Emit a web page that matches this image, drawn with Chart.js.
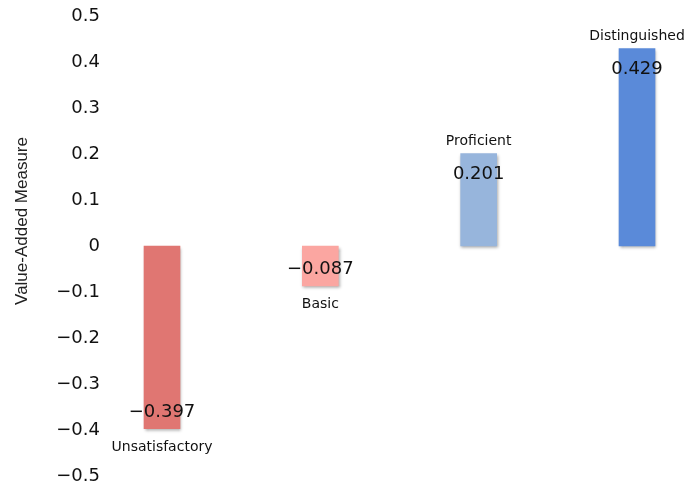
<!DOCTYPE html>
<html>
<head>
<meta charset="utf-8">
<script src="https://cdn.jsdelivr.net/npm/chart.js@4/dist/chart.umd.min.js"></script>
<style>
    html, body { margin: 0; padding: 0; background: #fff; }
    #wrap { width: 691px; height: 489px; }
</style>
</head>
<body>
<div id="wrap"><canvas id="va-chart"></canvas></div>
<script>

const levels = ['Unsatisfactory', 'Basic', 'Proficient', 'Distinguished'];
const measures = [-0.397, -0.087, 0.201, 0.429];
const barColors = ['#E07672', '#FBA6A1', '#97B5DC', '#5A8AD9'];
const yTitle = 'Value-Added Measure';

function fmt(v) {
    if (Math.abs(v) < 1e-9) return '0';
    return v.toFixed(1).replace('-', '\u2212');
}

// soft drop shadow under the bars
const barShadow = {
    id: 'barShadow',
    beforeDatasetsDraw(chart) {
        const ctx = chart.ctx;
        ctx.save();
        ctx.shadowColor = 'rgba(0,0,0,0.35)';
        ctx.shadowBlur = 3;
        ctx.shadowOffsetX = 1;
        ctx.shadowOffsetY = 2;
    },
    afterDatasetsDraw(chart) {
        chart.ctx.restore();
    }
};

// value inside the bar end, level name just outside it, plus the axis title
const barLabels = {
    id: 'barLabels',
    afterDraw(chart) {
        const ctx = chart.ctx;
        const meta = chart.getDatasetMeta(0);
        ctx.save();
        ctx.textAlign = 'center';
        ctx.textBaseline = 'alphabetic';
        ctx.fillStyle = '#111';
        meta.data.forEach((bar, i) => {
            const v = measures[i];
            const label = v.toFixed(3).replace('-', '\u2212');
            ctx.font = '18px "DejaVu Sans"';
            if (v >= 0) {
                ctx.fillText(label, bar.x, bar.y + 25);
                ctx.font = '14px "DejaVu Sans"';
                ctx.fillText(levels[i], bar.x, bar.y - 9);
            } else {
                ctx.fillText(label, bar.x, bar.y - 12);
                ctx.font = '14px "DejaVu Sans"';
                ctx.fillText(levels[i], bar.x, bar.y + 22);
            }
        });

        const area = chart.chartArea;
        ctx.translate(22, (area.top + area.bottom) / 2 - 25);
        ctx.rotate(-Math.PI / 2);
        ctx.textBaseline = 'middle';
        ctx.fillStyle = '#222';
        ctx.font = '17px "Liberation Sans"';
        ctx.fillText(yTitle, 0, 0);
        ctx.restore();
    }
};

const config = {
    type: 'bar',
    data: {
        labels: levels,
        datasets: [{
            data: measures,
            backgroundColor: barColors,
            borderWidth: 0,
            barThickness: 36,
            clip: false
        }]
    },
    options: {
        responsive: true,
        maintainAspectRatio: false,
        animation: false,
        layout: {
            padding: { top: 16, bottom: 13, left: 0, right: 54 }
        },
        plugins: {
            legend: { display: false },
            tooltip: { enabled: false }
        },
        scales: {
            x: {
                display: false,
                offset: false
            },
            y: {
                min: -0.5,
                max: 0.5,
                border: { display: false },
                grid: { display: false, drawTicks: false },
                afterFit(scale) {
                    // wide gap between labels and bars, but no extra height
                    scale.width = 162;
                    scale.paddingTop = 0;
                    scale.paddingBottom = 0;
                },
                ticks: {
                    stepSize: 0.1,
                    padding: 62,
                    color: '#111',
                    font: { family: 'DejaVu Sans', size: 18 },
                    callback: (value) => fmt(value)
                }
            }
        }
    },
    plugins: [barShadow, barLabels]
};

new Chart('va-chart', config);
</script>
</body>
</html>
